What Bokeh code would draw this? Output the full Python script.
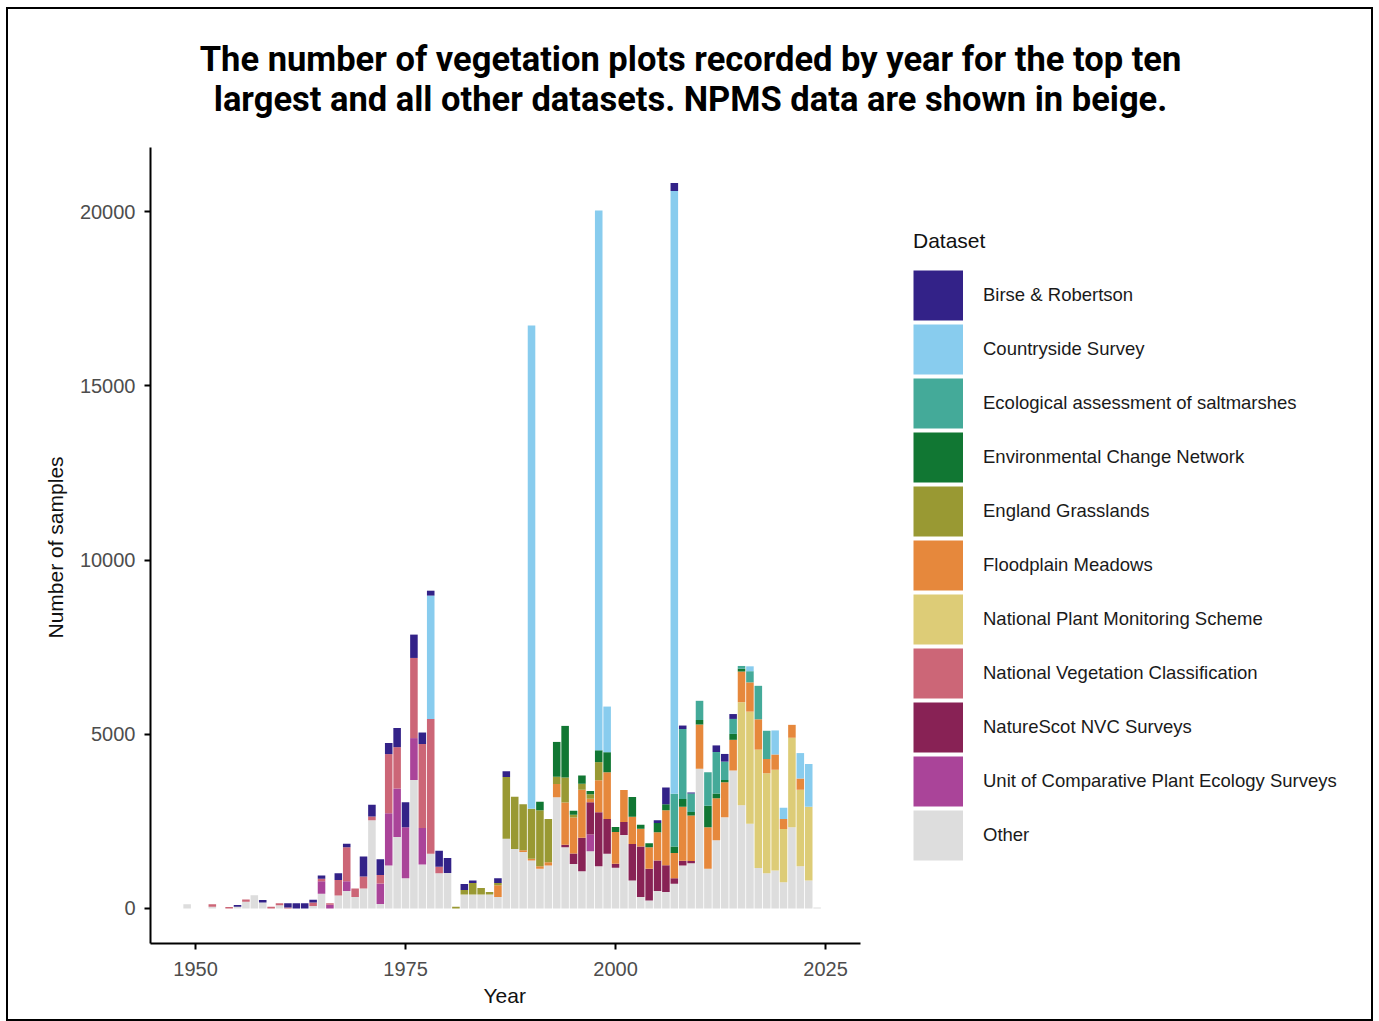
from bokeh.plotting import figure
from bokeh.models import ColumnDataSource, Legend, LegendItem, Label, Range1d, Title
from bokeh.embed import file_html
from bokeh.resources import INLINE

# ---------------- data ----------------
years = list(range(1949, 2025))

other = [120, 0, 0, 50, 0, 0, 50, 190, 380, 170,
         0, 90, 0, 0, 0, 70, 420, 0, 370, 500,
         330, 570, 2530, 130, 1230, 2050, 870, 3690, 1260, 1570,
         1010, 1020, 0, 400, 400, 400, 400, 330, 2000, 1710,
         1620, 1380, 1140, 1230, 3190, 1760, 1280, 1070, 1640, 1210,
         1570, 1170, 2110, 800, 330, 230, 500, 470, 710, 1230,
         1300, 4010, 1140, 1960, 2620, 3960, 2960, 2430, 1160, 1010,
         1090, 750, 2330, 1210, 800, 30]

unit_comparative = [0, 0, 0, 0, 0, 0, 0, 0, 0, 0,
                    0, 0, 0, 0, 0, 0, 360, 110, 0, 280,
                    0, 0, 0, 590, 1500, 1390, 1460, 1200, 1050, 0,
                    0, 0, 0, 0, 0, 0, 0, 0, 0, 0,
                    0, 0, 0, 0, 0, 0, 0, 0, 480, 0,
                    0, 0, 0, 0, 0, 0, 0, 0, 0, 0,
                    0, 0, 0, 0, 0, 0, 0, 0, 0, 0,
                    0, 0, 0, 0, 0, 0]

naturescot = [0, 0, 0, 0, 0, 0, 0, 0, 0, 0,
              0, 0, 0, 0, 0, 0, 0, 0, 0, 0,
              0, 0, 0, 0, 0, 0, 0, 0, 0, 0,
              0, 0, 0, 0, 0, 0, 0, 0, 0, 0,
              0, 0, 0, 0, 0, 70, 300, 960, 930, 1550,
              1000, 115, 370, 1050, 1450, 910, 880, 770, 160, 140,
              60, 0, 0, 0, 0, 0, 0, 0, 0, 0,
              0, 0, 0, 0, 0, 0]

nvc = [0, 0, 0, 70, 0, 40, 0, 70, 0, 0,
       50, 60, 30, 0, 0, 100, 70, 40, 450, 980,
       240, 350, 110, 240, 1700, 1190, 0, 2300, 2410, 3870,
       190, 0, 0, 0, 0, 0, 0, 0, 0, 0,
       0, 0, 0, 0, 0, 0, 0, 0, 0, 0,
       0, 0, 0, 0, 0, 0, 0, 0, 0, 0,
       0, 0, 0, 0, 0, 0, 0, 0, 0, 0,
       0, 0, 0, 0, 0, 0]

npms = [0, 0, 0, 0, 0, 0, 0, 0, 0, 0,
        0, 0, 0, 0, 0, 0, 0, 0, 0, 0,
        0, 0, 0, 0, 0, 0, 0, 0, 0, 0,
        0, 0, 0, 0, 0, 0, 0, 0, 0, 0,
        0, 0, 0, 0, 0, 0, 0, 0, 0, 0,
        0, 0, 0, 0, 0, 0, 0, 0, 0, 0,
        0, 0, 0, 0, 0, 0, 2960, 3220, 3400, 2870,
        2890, 1530, 2570, 2200, 2120, 0]

floodplain = [0, 0, 0, 0, 0, 0, 0, 0, 0, 0,
              0, 0, 0, 0, 0, 0, 0, 0, 0, 0,
              0, 0, 0, 0, 0, 0, 0, 0, 0, 0,
              0, 0, 0, 0, 0, 0, 0, 340, 0, 0,
              50, 50, 70, 100, 380, 1210, 1030, 1380, 100, 920,
              1340, 910, 920, 780, 510, 620, 810, 1580, 720, 1550,
              1310, 1270, 1190, 1200, 1000, 880, 880, 840, 870, 410,
              440, 290, 370, 320, 0, 0]

england_grass = [0, 0, 0, 0, 0, 0, 0, 0, 0, 0,
                 0, 0, 0, 0, 0, 0, 0, 0, 0, 0,
                 0, 0, 0, 0, 0, 0, 0, 0, 0, 0,
                 0, 0, 50, 130, 330, 190, 70, 60, 1770, 1500,
                 1320, 1430, 1610, 1240, 210, 720, 80, 170, 125, 520,
                 0, 0, 0, 0, 0, 0, 0, 0, 0, 0,
                 0, 0, 0, 0, 0, 0, 0, 0, 0, 0,
                 0, 0, 0, 0, 0, 0]

ecn = [0, 0, 0, 0, 0, 0, 0, 0, 0, 0,
       0, 0, 0, 0, 0, 0, 0, 0, 0, 0,
       0, 0, 0, 0, 0, 0, 0, 0, 0, 0,
       0, 0, 0, 0, 0, 0, 0, 0, 0, 0,
       0, 0, 240, 0, 1000, 1480, 115, 240, 95, 340,
       575, 145, 0, 570, 110, 110, 260, 170, 190, 220,
       100, 130, 620, 140, 65, 170, 80, 0, 0, 0,
       0, 0, 0, 0, 0, 0]

saltmarsh = [0, 0, 0, 0, 0, 0, 0, 0, 0, 0,
             0, 0, 0, 0, 0, 0, 0, 0, 0, 0,
             0, 0, 0, 0, 0, 0, 0, 0, 0, 0,
             0, 0, 0, 0, 0, 0, 0, 0, 0, 0,
             0, 0, 0, 0, 0, 0, 0, 0, 0, 0,
             0, 0, 0, 0, 0, 0, 0, 0, 1510, 2010,
             530, 550, 960, 1190, 530, 430, 80, 320, 960, 810,
             0, 0, 0, 0, 0, 0]

countryside = [0, 0, 0, 0, 0, 0, 0, 0, 0, 0,
               0, 0, 0, 0, 0, 0, 0, 0, 0, 0,
               0, 0, 0, 0, 0, 0, 0, 0, 0, 3540,
               0, 0, 0, 0, 0, 0, 0, 0, 0, 0,
               0, 13870, 0, 0, 0, 0, 0, 0, 0, 15490,
               1310, 0, 0, 0, 0, 0, 0, 0, 17300, 0,
               0, 0, 0, 0, 0, 0, 0, 140, 0, 0,
               690, 320, 0, 730, 1230, 0]

birse = [0, 0, 0, 0, 0, 0, 50, 0, 0, 70,
         0, 0, 120, 150, 150, 80, 100, 0, 190, 100,
         0, 570, 340, 450, 320, 550, 720, 670, 330, 140,
         460, 430, 0, 170, 70, 0, 0, 140, 170, 0,
         0, 0, 0, 0, 0, 0, 0, 0, 0, 0,
         0, 0, 0, 0, 0, 0, 80, 480, 230, 100,
         30, 0, 0, 190, 220, 140, 0, 0, 0, 0,
         0, 0, 0, 0, 0, 0]

# stacking order bottom -> top
keys = ["other", "unit", "naturescot", "nvc", "npms", "floodplain",
        "england", "ecn", "saltmarsh", "countryside", "birse"]
labels = ["Other", "Unit of Comparative Plant Ecology Surveys", "NatureScot NVC Surveys",
          "National Vegetation Classification", "National Plant Monitoring Scheme",
          "Floodplain Meadows", "England Grasslands", "Environmental Change Network",
          "Ecological assessment of saltmarshes", "Countryside Survey", "Birse & Robertson"]
colors = ["#DDDDDD", "#AA4499", "#882255", "#CC6677", "#DDCC77", "#E6883C",
          "#999933", "#117733", "#44AA99", "#88CCEE", "#332288"]
x_ticks = [1950, 1975, 2000, 2025]
y_ticks = [0, 5000, 10000, 15000, 20000]
title_lines = ["The number of vegetation plots recorded by year for the top ten",
               "largest and all other datasets. NPMS data are shown in beige."]

source = ColumnDataSource(data=dict(
    year=years, other=other, unit=unit_comparative, naturescot=naturescot, nvc=nvc,
    npms=npms, floodplain=floodplain, england=england_grass, ecn=ecn,
    saltmarsh=saltmarsh, countryside=countryside, birse=birse))

# axis extents (data units) of the visible axes
X0, X1 = 1944.64, 2029.17
Y0, Y1 = -1005, 21840
PX_PER_YEAR = 8.4
UNITS_PER_PX = 28.695

# the frame extends to the right (legend area) and up (title area);
# the axes are limited to the plotting region with bounds
p = figure(width=1367, height=1014, output_backend="svg", toolbar_location=None,
           x_range=Range1d(X0, X0 + 1218 / PX_PER_YEAR),
           y_range=Range1d(Y0, Y1 + 127 * UNITS_PER_PX),
           min_border_left=142, min_border_right=7, min_border_top=11,
           min_border_bottom=80,
           styles={"border": "2px solid black", "margin-left": "6px", "margin-top": "7px"})

renderers = p.vbar_stack(keys, x="year", width=0.9, fill_color=colors,
                         line_color=None, source=source)

# legend swatches: thick line proxies (no visible data) so each key fills its box
nan = float("nan")
swatches = [p.line(x=[nan], y=[nan], line_width=50, line_color=c, line_cap="butt")
            for c in colors]

p.xgrid.visible = False
p.ygrid.visible = False
p.outline_line_color = None
p.background_fill_color = "white"

p.xaxis.ticker = x_ticks
p.yaxis.ticker = y_ticks
p.xaxis.bounds = (X0, X1)
p.yaxis.bounds = (Y0, Y1)
for ax in (p.xaxis[0], p.yaxis[0]):
    ax.axis_line_width = 2
    ax.axis_line_color = "black"
    ax.major_tick_line_width = 2
    ax.major_tick_line_color = "black"
    ax.major_tick_out = 6
    ax.major_tick_in = 0
    ax.minor_tick_out = 0
    ax.minor_tick_in = 0
    ax.major_label_text_font = "Liberation Sans"
    ax.major_label_text_font_size = "20px"
    ax.major_label_text_color = "#4D4D4D"
p.xaxis.major_label_standoff = 12
p.yaxis.major_label_standoff = 9

# axis titles centred on the axis lines (not the extended frame)
x_title = Title(text="Year", align="left", offset=333, standoff=6,
                text_font="Liberation Sans", text_font_size="21px",
                text_font_style="normal", text_color="#111111")
p.add_layout(x_title, "below")
y_title = Title(text="Number of samples", align="left", offset=305, standoff=19,
                text_font="Liberation Sans", text_font_size="21px",
                text_font_style="normal", text_color="#111111")
p.add_layout(y_title, "left")

items = [LegendItem(label=lab, renderers=[r])
         for lab, r in reversed(list(zip(labels, swatches)))]
legend = Legend(items=items, location=(763, 81), title="Dataset",
                glyph_width=50, glyph_height=54, label_height=54, spacing=0,
                padding=0, margin=0, label_standoff=20,
                label_text_font="Liberation Sans", label_text_font_size="18.5px",
                label_text_color="#1A1A1A",
                title_text_font="Liberation Sans", title_text_font_size="21px",
                title_text_font_style="normal", title_text_color="#111111",
                title_standoff=15, border_line_color=None, background_fill_alpha=0)
p.add_layout(legend, "center")

# two-line chart title, centred over the whole page
title_x = X0 + (690 - 150) / PX_PER_YEAR
for line, py in zip(title_lines, (58, 98)):
    p.add_layout(Label(x=title_x, y=(908 - py) * UNITS_PER_PX, text=line,
                       text_align="center", text_baseline="middle",
                       text_font="Roboto", text_font_size="34.5px",
                       text_font_style="bold", text_color="black"))

open("out.html", "w").write(file_html(p, INLINE))
